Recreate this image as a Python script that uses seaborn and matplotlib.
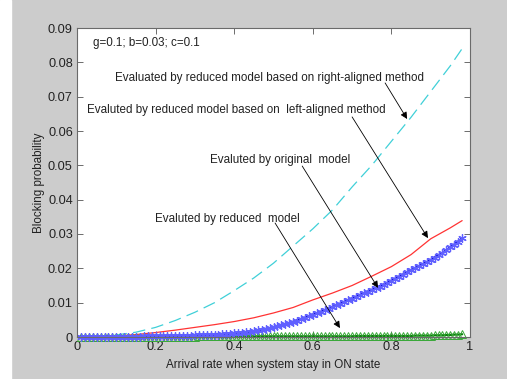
import numpy as np
import matplotlib
matplotlib.use('Agg')
from matplotlib import pyplot as plt
from matplotlib.patches import Rectangle
import seaborn as sns

# sample grids
x_dense = np.round(np.arange(1, 99) * 0.01, 2)
x_coarse = [0.0, 0.05, 0.1, 0.15, 0.2, 0.25, 0.3, 0.35, 0.4, 0.45, 0.5,
            0.55, 0.6, 0.65, 0.7, 0.75, 0.8, 0.85, 0.9, 0.95, 0.98]

# reduced model, right-aligned method (cyan dashed)
right_aligned = [0.0, 0.0002, 0.0006, 0.0014, 0.0028, 0.0048, 0.0072, 0.0100,
                 0.0135, 0.0172, 0.0215, 0.0265, 0.0315, 0.0370, 0.0437,
                 0.0500, 0.0570, 0.0640, 0.0715, 0.0790, 0.0840]

# reduced model, left-aligned method (red)
left_aligned = [0.0, 0.0001, 0.0003, 0.0007, 0.0013, 0.0020, 0.0028, 0.0036,
                0.0045, 0.0056, 0.0070, 0.0086, 0.0108, 0.0128, 0.0150,
                0.0177, 0.0205, 0.0240, 0.0286, 0.0318, 0.0339]

# original model (blue, asterisks)
original = [
    0.0000, 0.0000, 0.0000, 0.0000, 0.0000, 0.0000, 0.0001, 0.0001, 0.0001, 0.0001,
    0.0001, 0.0001, 0.0001, 0.0001, 0.0001, 0.0001, 0.0002, 0.0002, 0.0002, 0.0002,
    0.0002, 0.0002, 0.0003, 0.0003, 0.0003, 0.0003, 0.0004, 0.0004, 0.0004, 0.0005,
    0.0005, 0.0005, 0.0006, 0.0006, 0.0007, 0.0007, 0.0008, 0.0009, 0.0010, 0.0011,
    0.0012, 0.0013, 0.0014, 0.0015, 0.0017, 0.0019, 0.0021, 0.0023, 0.0025, 0.0028,
    0.0031, 0.0034, 0.0037, 0.0040, 0.0044, 0.0048, 0.0052, 0.0056, 0.0060, 0.0065,
    0.0069, 0.0073, 0.0078, 0.0082, 0.0087, 0.0092, 0.0097, 0.0102, 0.0107, 0.0112,
    0.0117, 0.0122, 0.0127, 0.0132, 0.0137, 0.0142, 0.0147, 0.0152, 0.0158, 0.0164,
    0.0170, 0.0176, 0.0182, 0.0188, 0.0194, 0.0200, 0.0206, 0.0212, 0.0218, 0.0224,
    0.0231, 0.0238, 0.0245, 0.0253, 0.0261, 0.0269, 0.0278, 0.0287]

# reduced model (green triangles)
reduced = [
    0.0001, 0.0001, 0.0001, 0.0001, 0.0001, 0.0001, 0.0001, 0.0001, 0.0001, 0.0001,
    0.0001, 0.0001, 0.0001, 0.0001, 0.0001, 0.0001, 0.0001, 0.0001, 0.0001, 0.0001,
    0.0001, 0.0001, 0.0001, 0.0001, 0.0001, 0.0001, 0.0001, 0.0001, 0.0001, 0.0001,
    0.0002, 0.0002, 0.0002, 0.0002, 0.0002, 0.0002, 0.0002, 0.0002, 0.0002, 0.0002,
    0.0002, 0.0002, 0.0002, 0.0002, 0.0002, 0.0002, 0.0002, 0.0002, 0.0002, 0.0002,
    0.0002, 0.0002, 0.0002, 0.0002, 0.0002, 0.0002, 0.0002, 0.0002, 0.0002, 0.0002,
    0.0002, 0.0002, 0.0002, 0.0002, 0.0002, 0.0002, 0.0002, 0.0002, 0.0002, 0.0002,
    0.0003, 0.0003, 0.0003, 0.0003, 0.0003, 0.0003, 0.0003, 0.0003, 0.0003, 0.0003,
    0.0003, 0.0003, 0.0003, 0.0003, 0.0003, 0.0004, 0.0004, 0.0004, 0.0004, 0.0004,
    0.0005, 0.0005, 0.0005, 0.0006, 0.0006, 0.0007, 0.0007, 0.0008]

sns.set_theme(style='ticks')
plt.rcParams['font.family'] = ['Liberation Sans', 'DejaVu Sans']
plt.rcParams['font.size'] = 8.4

fig = plt.figure(figsize=(5.07, 3.79), dpi=100, facecolor='#cccccc')
fig.patches.append(Rectangle((0, 0), 11 / 507, 1, transform=fig.transFigure,
                             color='white', zorder=0))
ax = fig.add_axes([77 / 507, 42 / 379, 393 / 507, 309 / 379])
ax.set_facecolor('white')

sns.lineplot(x=x_coarse, y=right_aligned, ax=ax, color='#40d0d8', lw=0.9,
             linestyle=(0, (10, 5)))
sns.lineplot(x=x_coarse, y=left_aligned, ax=ax, color='#ff3333', lw=0.9)
sns.lineplot(x=x_dense, y=reduced, ax=ax, color='#0a7f0a', lw=1.6,
             marker='^', markersize=5.5, markerfacecolor='none',
             markeredgecolor='#3aa83a', markeredgewidth=0.7, clip_on=False)
sns.lineplot(x=x_dense, y=original, ax=ax, color='#0000cc', lw=1.8,
             marker=(6, 2, 0), markersize=6, markeredgecolor='#6060ff',
             markeredgewidth=0.9, clip_on=False)

ax.set_xlim(0, 1)
ax.set_ylim(0, 0.09)
ax.set_xticks([0, 0.2, 0.4, 0.6, 0.8, 1])
ax.set_xticklabels(['0', '0.2', '0.4', '0.6', '0.8', '1'])
ax.set_yticks(np.round(np.arange(0, 10) * 0.01, 2))
ax.set_yticklabels(['0', '0.01', '0.02', '0.03', '0.04', '0.05', '0.06',
                    '0.07', '0.08', '0.09'])
ax.tick_params(direction='in', length=4, width=0.6, top=True, right=True,
               colors='#555555', labelcolor='#222222', labelsize=9.2, pad=3)
for s in ax.spines.values():
    s.set_visible(True)
    s.set_color('#6a6a6a')
    s.set_linewidth(0.8)

ax.set_xlabel('Arrival rate when system stay in ON state', fontsize=8.4,
              color='#222222', labelpad=4)
ax.set_ylabel('Blocking probability', fontsize=8.4, color='#222222',
              labelpad=2)

ax.text(0.041, 0.0856, 'g=0.1; b=0.03; c=0.1', va='center', ha='left',
        color='#222222')
notes = [
    ('Evaluated by reduced model based on right-aligned method', 0.097, 0.0754,
     (0.784, 0.0740), (0.840, 0.0635)),
    ('Evaluted by reduced model based on  left-aligned method', 0.025, 0.0661,
     (0.700, 0.0641), (0.893, 0.0288)),
    ('Evaluted by original  model', 0.338, 0.0516,
     (0.573, 0.0498), (0.766, 0.0143)),
    ('Evaluted by reduced  model', 0.198, 0.0344,
     (0.504, 0.0332), (0.669, 0.0026)),
]
for label, tx, ty, tail, head in notes:
    ax.text(tx, ty, label, va='center', ha='left', color='#222222')
    ax.annotate('', xy=head, xytext=tail,
                arrowprops=dict(arrowstyle='-|>', color='black', lw=0.6,
                                mutation_scale=10, shrinkA=0, shrinkB=0))

fig.savefig('out.png', dpi=100, facecolor=fig.get_facecolor())
